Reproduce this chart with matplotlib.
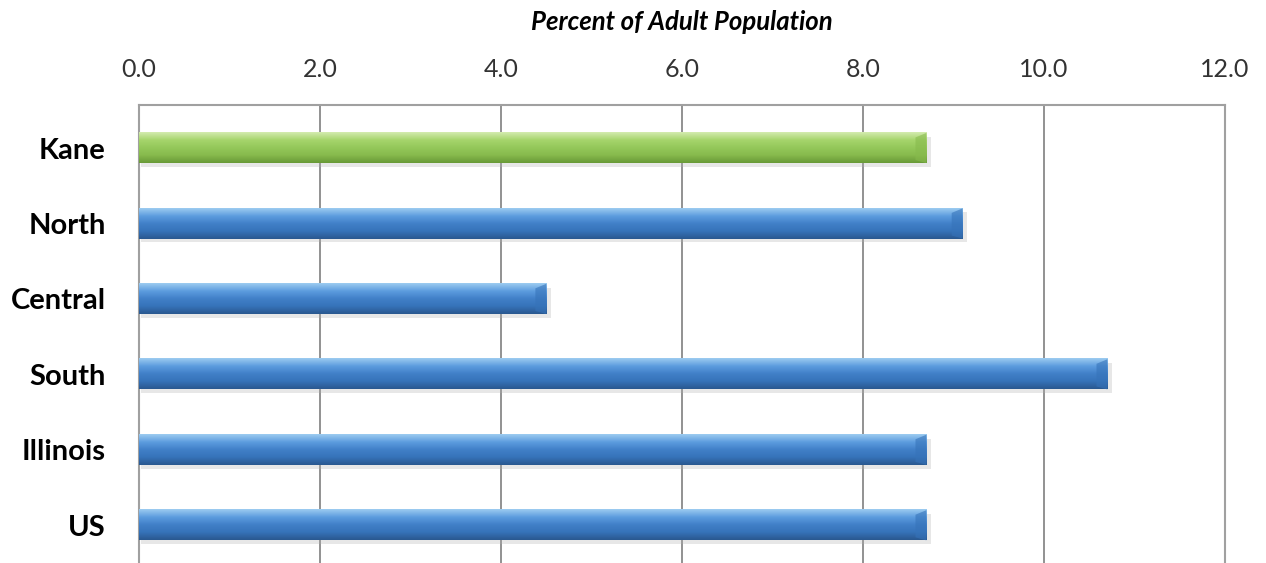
import matplotlib.pyplot as plt
import numpy as np
from matplotlib.colors import LinearSegmentedColormap

regions = ['Kane', 'North', 'Central', 'South', 'Illinois', 'US']
percent = [8.7, 9.1, 4.5, 10.7, 8.7, 8.7]
ticks = [0, 2, 4, 6, 8, 10, 12]

blue = LinearSegmentedColormap.from_list(
    'blue', ['#9ccbf0', '#5d9ddf', '#4180c8', '#3673b9', '#2a5890'])
green = LinearSegmentedColormap.from_list(
    'green', ['#d3ebae', '#a6d56c', '#94c85a', '#87ba4d', '#689a37'])

fig = plt.figure(figsize=(12.66, 5.63), dpi=100)
ax = fig.add_axes([139 / 1266, 0, (1225 - 139) / 1266, 1 - 105 / 563])

h = 0.4
grad = np.linspace(0, 1, 64).reshape(-1, 1)
for i, (name, v) in enumerate(zip(regions, percent)):
    cmap = green if name == 'Kane' else blue
    # soft drop shadow under each bar
    ax.add_patch(plt.Rectangle((0.02, i - h / 2 + 0.05), v + 0.03, h,
                               color='#b0b0b0', alpha=0.3, lw=0, zorder=2))
    ax.imshow(grad, cmap=cmap, aspect='auto', interpolation='bilinear',
              extent=[0, v, i + h / 2, i - h / 2], zorder=3)
    # darker bevel on the bar end
    ax.add_patch(plt.Polygon([[v - 0.12, i - h / 2 + 0.06], [v, i - h / 2],
                              [v, i + h / 2], [v - 0.12, i + h / 2 - 0.04]],
                             color=cmap(0.75), alpha=0.6, lw=0, zorder=4))

ax.set_xlim(0, 12)
ax.set_ylim(5.5, -0.57)
ax.set_xticks(ticks)
ax.set_xticklabels([f'{t:.1f}' for t in ticks], fontsize=18, color='#333333',
                   family='Lato')
ax.xaxis.tick_top()
ax.tick_params(axis='x', length=0, pad=17)
ax.set_yticks(range(len(regions)))
ax.set_yticklabels(regions, fontsize=21, fontweight='bold', family='Lato')
ax.tick_params(axis='y', length=0, pad=24)

for t in ticks[1:-1]:
    ax.axvline(t, color='#7f7f7f', lw=1.2, zorder=1)
for s in ['left', 'right', 'top']:
    ax.spines[s].set_color('#a0a0a0')
    ax.spines[s].set_linewidth(1.5)
ax.spines['bottom'].set_visible(False)

fig.text(682 / 1266, 1 - 22 / 563, 'Percent of Adult Population', ha='center',
         va='center', fontsize=18.5, fontweight='bold', fontstyle='italic',
         family='Lato')

fig.savefig('out.png', dpi=100)
